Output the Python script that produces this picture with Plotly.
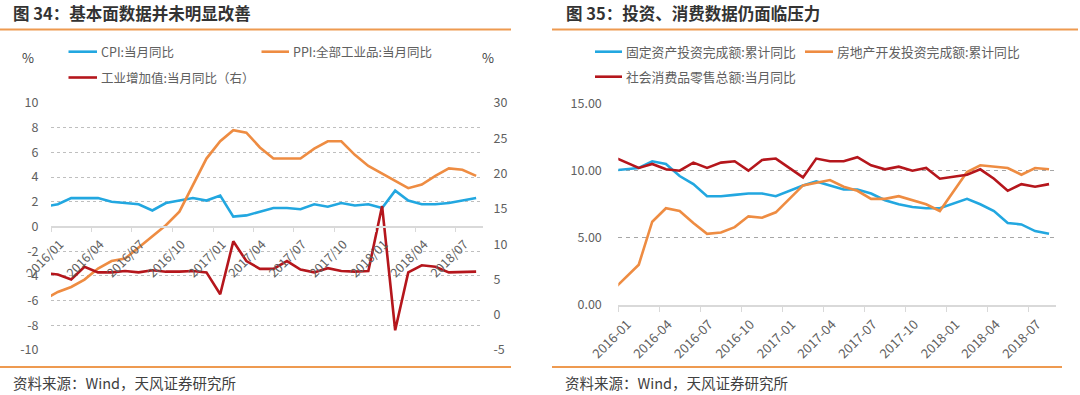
import plotly.graph_objects as go

W, H = 1080, 395


def px(x):
    return x / W


def py(y):
    return 1 - y / H


# ---------------- data ----------------
months = [
    "2015-12",
    "2016-01", "2016-02", "2016-03", "2016-04", "2016-05", "2016-06",
    "2016-07", "2016-08", "2016-09", "2016-10", "2016-11", "2016-12",
    "2017-01", "2017-02", "2017-03", "2017-04", "2017-05", "2017-06",
    "2017-07", "2017-08", "2017-09", "2017-10", "2017-11", "2017-12",
    "2018-01", "2018-02", "2018-03", "2018-04", "2018-05", "2018-06",
    "2018-07", "2018-08",
]

# Figure 34
cpi = [1.6,
       1.8, 2.3, 2.3, 2.3, 2.0, 1.9, 1.8, 1.3, 1.9, 2.1, 2.3, 2.1,
       2.5, 0.8, 0.9, 1.2, 1.5, 1.5, 1.4, 1.8, 1.6, 1.9, 1.7, 1.8,
       1.5, 2.9, 2.1, 1.8, 1.8, 1.9, 2.1, 2.3]
ppi = [-5.9,
       -5.3, -4.9, -4.3, -3.4, -2.8, -2.6, -1.7, -0.8, 0.1, 1.2, 3.3, 5.5,
       6.9, 7.8, 7.6, 6.4, 5.5, 5.5, 5.5, 6.3, 6.9, 6.9, 5.8, 4.9,
       4.3, 3.7, 3.1, 3.4, 4.1, 4.7, 4.6, 4.1]
iva = [5.9,
       5.7, 5.0, 6.8, 6.0, 6.0, 6.2, 6.0, 6.3, 6.1, 6.1, 6.2, 6.0,
       2.9, 10.4, 7.6, 6.5, 6.5, 7.6, 6.4, 6.0, 6.6, 6.2, 6.1, 6.2,
       15.4, -2.2, 6.0, 7.0, 6.8, 6.0, 6.0, 6.1]

# Figure 35
fai = [10.0,
       None, 10.2, 10.7, 10.5, 9.6, 9.0, 8.1, 8.1, 8.2, 8.3, 8.3, 8.1,
       None, 8.9, 9.2, 8.9, 8.6, 8.6, 8.3, 7.8, 7.5, 7.3, 7.2, 7.2,
       None, 7.9, 7.5, 7.0, 6.1, 6.0, 5.5, 5.3]
realestate = [1.0,
              None, 3.0, 6.2, 7.2, 7.0, 6.1, 5.3, 5.4, 5.8, 6.6, 6.5, 6.9,
              None, 8.9, 9.1, 9.3, 8.8, 8.5, 7.9, 7.9, 8.1, 7.8, 7.5, 7.0,
              None, 9.9, 10.4, 10.3, 10.2, 9.7, 10.2, 10.1]
retail = [11.1,
          None, 10.2, 10.5, 10.1, 10.0, 10.6, 10.2, 10.6, 10.7, 10.0, 10.8, 10.9,
          None, 9.5, 10.9, 10.7, 10.7, 11.0, 10.4, 10.1, 10.3, 10.0, 10.2, 9.4,
          None, 9.7, 10.1, 9.4, 8.5, 9.0, 8.8, 9.0]

left_ticks = [-10, -8, -6, -4, -2, 0, 2, 4, 6, 8, 10]
left_ticktext = ["-10", "-8", "-6", "-4", "-2", "0", "2", "4", "6", "8", "10"]
right_ticks = [-5, 0, 5, 10, 15, 20, 25, 30]
right_ticktext = ["-5", "0", "5", "10", "15", "20", "25", "30"]
r_ticks = [0, 5, 10, 15]
r_ticktext = ["0.00", "5.00", "10.00", "15.00"]

names34 = ["CPI:当月同比", "PPI:全部工业品:当月同比", "工业增加值:当月同比（右）"]
names35 = ["固定资产投资完成额:累计同比", "房地产开发投资完成额:累计同比", "社会消费品零售总额:当月同比"]

# ---------------- style ----------------
BLUE = "#22A7E0"
ORANGE = "#EE8C42"
RED = "#B5161C"
RULE = "#EE9A50"
TXT = "#606060"
FONT = "Noto Sans CJK SC, Microsoft YaHei, sans-serif"
LW = 2.6

fig = go.Figure()
common = dict(mode="lines", xperiod="M1", xperiodalignment="middle",
              connectgaps=True, hoverinfo="skip", showlegend=False)

fig.add_trace(go.Scatter(x=months, y=cpi, name=names34[0], line=dict(color=BLUE, width=LW),
                         xaxis="x", yaxis="y", **common))
fig.add_trace(go.Scatter(x=months, y=ppi, name=names34[1], line=dict(color=ORANGE, width=LW),
                         xaxis="x", yaxis="y", **common))
fig.add_trace(go.Scatter(x=months, y=iva, name=names34[2], line=dict(color=RED, width=LW),
                         xaxis="x", yaxis="y2", **common))

fig.add_trace(go.Scatter(x=months, y=fai, name=names35[0], line=dict(color=BLUE, width=LW),
                         xaxis="x2", yaxis="y3", **common))
fig.add_trace(go.Scatter(x=months, y=realestate, name=names35[1], line=dict(color=ORANGE, width=LW),
                         xaxis="x2", yaxis="y3", **common))
fig.add_trace(go.Scatter(x=months, y=retail, name=names35[2], line=dict(color=RED, width=LW),
                         xaxis="x2", yaxis="y3", **common))

# left chart geometry
L_x0, L_x1 = 51, 483
L_ytop, L_ybot = 103, 350
zero_y = (L_ytop + L_ybot) / 2
# right chart geometry
R_x0, R_x1 = 618.3, 1056
R_ytop, R_ybot = 103.5, 305

xcommon = dict(type="date", range=["2016-01-01", "2018-09-01"], tick0="2016-01-01", dtick="M3",
               tickangle=-45, showgrid=False, zeroline=False, showline=True,
               linecolor="#D9D9D9", linewidth=1.5, ticks="outside", ticklen=5,
               tickcolor="#D9D9D9", automargin=False, ticklabelshift=9)

fig.update_layout(
    template="none",
    width=W, height=H, autosize=False,
    margin=dict(l=0, r=0, t=0, b=0, pad=0, autoexpand=False),
    paper_bgcolor="white", plot_bgcolor="white",
    font=dict(family=FONT, color=TXT),
    xaxis=dict(domain=[px(L_x0), px(L_x1)], anchor="free", position=py(zero_y),
               tickformat="%Y/%m", tickfont=dict(size=12.5, color=TXT), **xcommon),
    yaxis=dict(domain=[py(L_ybot), py(L_ytop)], range=[-10, 10], anchor="x",
               tickvals=left_ticks, ticktext=left_ticktext, automargin=False,
               showgrid=True, gridcolor="#BFBFBF", griddash="3px,3px", gridwidth=1,
               zeroline=False, showline=False, ticks="outside", ticklen=9,
               tickcolor="rgba(0,0,0,0)", tickfont=dict(size=12.5, color=TXT)),
    yaxis2=dict(domain=[py(L_ybot), py(L_ytop)], range=[-5, 30], overlaying="y", side="right",
                anchor="x", tickvals=right_ticks, ticktext=right_ticktext, automargin=False,
                showgrid=False, zeroline=False, showline=False, ticks="outside", ticklen=7,
                tickcolor="rgba(0,0,0,0)", tickfont=dict(size=12.5, color=TXT)),
    xaxis2=dict(domain=[px(R_x0), px(R_x1)], anchor="y3", tickformat="%Y-%m",
                tickfont=dict(size=13, color=TXT), **xcommon),
    yaxis3=dict(domain=[py(R_ybot), py(R_ytop)], range=[0, 15], anchor="x2",
                tickvals=r_ticks, ticktext=r_ticktext, automargin=False,
                showgrid=True, gridcolor="#A6A6A6", griddash="4px,4px", gridwidth=1,
                zeroline=False, showline=False, ticks="outside", ticklen=13,
                tickcolor="rgba(0,0,0,0)", tickfont=dict(size=12.5, color=TXT)),
)

shapes = []
annotations = []


def hline(x0, x1, y, color, width):
    shapes.append(dict(type="line", xref="paper", yref="paper",
                       x0=px(x0), x1=px(x1), y0=py(y), y1=py(y),
                       line=dict(color=color, width=width)))


def text(x, y, s, size, color, xanchor="left", bold=False):
    annotations.append(dict(xref="paper", yref="paper", x=px(x), y=py(y),
                            text=("<b>%s</b>" % s) if bold else s, showarrow=False,
                            xanchor=xanchor, yanchor="middle",
                            font=dict(size=size, color=color, family=FONT)))


# titles and rules
text(11, 13, "图 34：基本面数据并未明显改善", 16.5, "#333333", bold=True)
text(564, 13, "图 35：投资、消费数据仍面临压力", 16.5, "#333333", bold=True)
hline(0, 511, 29.5, RULE, 2)
hline(552, 1078, 29.5, RULE, 2)
hline(0, 511, 367, RULE, 2)
hline(552, 1062, 367, RULE, 2)
text(11, 382, "资料来源：Wind，天风证券研究所", 14.5, "#404040")
text(563, 382, "资料来源：Wind，天风证券研究所", 14.5, "#404040")

# units
text(28, 57, "%", 13, "#404040", xanchor="center")
text(488, 57, "%", 13, "#404040", xanchor="center")

# legends (left)
hline(68.5, 97, 51.7, BLUE, LW)
text(99, 51.7, names34[0], 12.5, TXT)
hline(261.5, 289, 51.7, ORANGE, LW)
text(291, 51.7, names34[1], 12.5, TXT)
hline(68.5, 97, 77.5, RED, LW)
text(99, 77.5, names34[2], 12.5, TXT)

# legends (right)
hline(595, 622, 51.7, BLUE, LW)
text(624, 51.7, names35[0], 12.8, TXT)
hline(805, 833, 51.7, ORANGE, LW)
text(835, 51.7, names35[1], 12.8, TXT)
hline(595, 622, 76.7, RED, LW)
text(624, 76.7, names35[2], 12.8, TXT)

fig.update_layout(shapes=shapes, annotations=annotations)

fig.write_html("out.html", config={"displayModeBar": False},
               post_script="document.body.style.margin='0';document.body.style.overflow='hidden';")
